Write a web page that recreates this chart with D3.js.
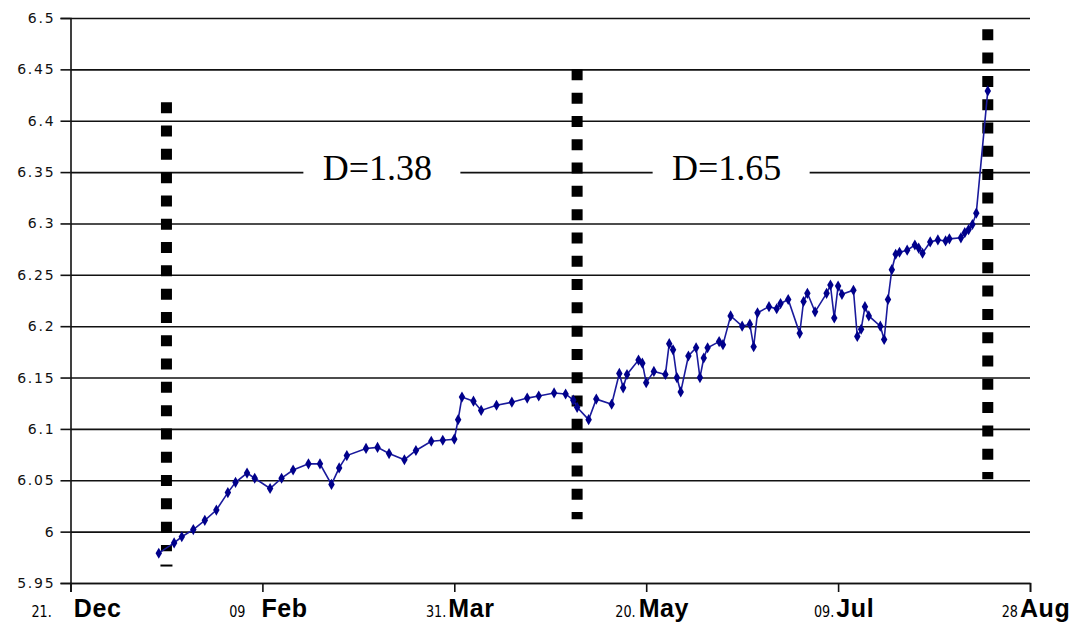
<!DOCTYPE html>
<html>
<head>
<meta charset="utf-8">
<script src="https://cdn.jsdelivr.net/npm/d3@7"></script>
<style>
  html, body { margin: 0; padding: 0; background: #fff; }
  svg { display: block; }
</style>
</head>
<body>
<svg id="chart" width="1075" height="624"></svg>
<script>
// Axis extent and tick labels
const domainStart = "2002-12-21";
const domainEnd = "2003-08-28";
const tickDates = ["2002-12-21", "2003-02-09", "2003-03-31", "2003-05-20", "2003-07-09", "2003-08-28"];
const tickDays = ["21.", "09", "31.", "20.", "09.", "28"];
const tickMonths = ["Dec", "Feb", "Mar", "May", "Jul", "Aug"];
const yTicks = [5.95, 6, 6.05, 6.1, 6.15, 6.2, 6.25, 6.3, 6.35, 6.4, 6.45, 6.5];
const yTickLabels = ["5.95", "6", "6.05", "6.1", "6.15", "6.2", "6.25", "6.3", "6.35", "6.4", "6.45", "6.5"];

// Daily series
const dates = [
  "2003-01-13", "2003-01-17", "2003-01-19", "2003-01-22", "2003-01-25", "2003-01-28", "2003-01-31",
  "2003-02-02", "2003-02-05", "2003-02-07", "2003-02-11", "2003-02-14", "2003-02-17", "2003-02-21",
  "2003-02-24", "2003-02-27", "2003-03-01", "2003-03-03", "2003-03-08", "2003-03-11", "2003-03-14",
  "2003-03-18", "2003-03-21", "2003-03-25", "2003-03-28", "2003-03-31", "2003-04-01", "2003-04-02",
  "2003-04-05", "2003-04-07", "2003-04-11", "2003-04-15", "2003-04-19", "2003-04-22", "2003-04-26",
  "2003-04-29", "2003-05-01", "2003-05-02", "2003-05-05", "2003-05-07", "2003-05-11", "2003-05-13",
  "2003-05-14", "2003-05-15", "2003-05-18", "2003-05-19", "2003-05-20", "2003-05-22", "2003-05-25",
  "2003-05-26", "2003-05-27", "2003-05-28", "2003-05-29", "2003-05-31", "2003-06-02", "2003-06-03",
  "2003-06-04", "2003-06-05", "2003-06-08", "2003-06-09", "2003-06-11", "2003-06-14", "2003-06-16",
  "2003-06-17", "2003-06-18", "2003-06-21", "2003-06-23", "2003-06-24", "2003-06-26", "2003-06-29",
  "2003-06-30", "2003-07-01", "2003-07-03", "2003-07-06", "2003-07-07", "2003-07-08", "2003-07-09",
  "2003-07-10", "2003-07-13", "2003-07-14", "2003-07-15", "2003-07-16", "2003-07-17", "2003-07-20",
  "2003-07-21", "2003-07-22", "2003-07-23", "2003-07-24", "2003-07-25", "2003-07-27", "2003-07-29",
  "2003-07-30", "2003-07-31", "2003-08-02", "2003-08-04", "2003-08-06", "2003-08-07", "2003-08-10",
  "2003-08-11", "2003-08-12", "2003-08-13", "2003-08-14", "2003-08-17"
];
const values = [
  5.979, 5.989, 5.995, 6.002, 6.011, 6.021, 6.038,
  6.048, 6.057, 6.052, 6.042, 6.052, 6.060, 6.066,
  6.066, 6.046, 6.062, 6.074, 6.081, 6.082, 6.076,
  6.070, 6.079, 6.088, 6.089, 6.090, 6.109, 6.131,
  6.127, 6.118, 6.123, 6.126, 6.130, 6.132, 6.135,
  6.134, 6.128, 6.121, 6.109, 6.129, 6.124, 6.154,
  6.140, 6.153, 6.167, 6.164, 6.145, 6.156, 6.153,
  6.183, 6.177, 6.150, 6.136, 6.171, 6.179, 6.150,
  6.169, 6.179, 6.185, 6.182, 6.210, 6.200, 6.202,
  6.180, 6.213, 6.219, 6.217, 6.222, 6.226, 6.193,
  6.224, 6.232, 6.214, 6.232, 6.240, 6.208, 6.239,
  6.231, 6.235, 6.190, 6.197, 6.219, 6.210, 6.200,
  6.187, 6.226, 6.255, 6.270, 6.272, 6.274, 6.279,
  6.276, 6.271, 6.282, 6.284, 6.283, 6.285, 6.286,
  6.291, 6.294, 6.299, 6.310, 6.429
];

// Period dividers (dashed verticals)
const dividerDates = ["2003-01-15", "2003-05-02", "2003-08-17"];
const dividerLow = [5.981, 6.012, 6.051];
const dividerHigh = [6.418, 6.450, 6.489];
const dividerCap = [5.967, null, null];

// Period annotations sitting on the 6.35 gridline
const spanLabels = ["D=1.38", "D=1.65"];
const spanLabelDates = ["2003-03-12", "2003-06-11"];
const spanLabelValue = 6.35;

const parse = d3.utcParse("%Y-%m-%d");
const margin = { left: 70.5, right: 45, top: 18, bottom: 41 };
const W = 1075, H = 624;

const x = d3.scaleUtc()
  .domain([parse(domainStart), parse(domainEnd)])
  .range([margin.left, W - margin.right]);
const y = d3.scaleLinear()
  .domain([5.95, 6.5])
  .range([H - margin.bottom, margin.top]);

const svg = d3.select("#chart");

// Horizontal gridlines
const grid = svg.append("g")
  .attr("transform", `translate(${margin.left},0)`)
  .call(d3.axisLeft(y).tickValues(yTicks).tickSize(-(x.range()[1] - margin.left)).tickFormat(""));
grid.select(".domain").remove();
grid.selectAll(".tick line").attr("stroke", "#111").attr("stroke-width", 1.6);

// Y axis
const yAxis = svg.append("g")
  .attr("transform", `translate(${margin.left},0)`)
  .call(d3.axisLeft(y).tickValues(yTicks).tickSize(10).tickPadding(5)
    .tickFormat((d, i) => yTickLabels[i]));
yAxis.select(".domain").attr("stroke", "#111").attr("stroke-width", 1.6);
yAxis.selectAll(".tick line").attr("stroke", "#111").attr("stroke-width", 1.6);
yAxis.selectAll(".tick text")
  .attr("font-family", "'DejaVu Sans', Verdana, sans-serif")
  .attr("font-size", 14)
  .attr("letter-spacing", "1.8px")
  .attr("fill", "#111");

// X axis
const xAxis = svg.append("g")
  .attr("transform", `translate(0,${y(5.95)})`)
  .call(d3.axisBottom(x).tickValues(tickDates.map(parse)).tickSize(9).tickFormat(""));
xAxis.select(".domain").attr("stroke", "#111").attr("stroke-width", 1.6);
xAxis.selectAll(".tick line").attr("stroke", "#111").attr("stroke-width", 1.6);

// Two-part date labels: small narrow day number, large bold month
const dayGap = [22, 16, 2, 3, 2, 2];
const dayScale = 0.8;
const xLabels = svg.append("g");
tickDates.forEach((d, i) => {
  const tx = x(parse(d));
  const g = xLabels.append("g").attr("transform", `translate(${tx + 6},617)`);
  const dayT = g.append("text")
    .attr("font-family", "'DejaVu Sans', Verdana, sans-serif")
    .attr("font-size", 16)
    .attr("fill", "#000")
    .text(tickDays[i]);
  const monT = g.append("text")
    .attr("font-family", "'Liberation Sans', Arial, sans-serif")
    .attr("font-weight", "bold")
    .attr("font-size", 25)
    .attr("letter-spacing", "0.6px")
    .attr("fill", "#000")
    .text(tickMonths[i]);
  const dayW = dayT.node().getComputedTextLength() * dayScale;
  const monW = monT.node().getComputedTextLength();
  const left = -(dayW + dayGap[i] + monW) / 2;
  dayT.attr("transform", `translate(${left},0) scale(${dayScale},1)`);
  monT.attr("x", left + dayW + dayGap[i]);
});

// Period annotations with a white backing that interrupts the gridline
const ann = svg.append("g");
spanLabels.forEach((s, i) => {
  const cx = x(parse(spanLabelDates[i]));
  const cy = y(spanLabelValue);
  ann.append("rect")
    .attr("x", cx - 78).attr("y", cy - 22)
    .attr("width", 157).attr("height", 40)
    .attr("fill", "#fff");
  ann.append("text")
    .attr("x", cx - 4).attr("y", cy + 8)
    .attr("text-anchor", "middle")
    .attr("font-family", "'Liberation Serif', 'Times New Roman', serif")
    .attr("font-size", 36)
    .attr("fill", "#000")
    .text(s);
});

// Dashed vertical dividers
const div = svg.append("g");
dividerDates.forEach((d, i) => {
  const dx = x(parse(d));
  div.append("line")
    .attr("x1", dx).attr("x2", dx)
    .attr("y1", y(dividerHigh[i])).attr("y2", y(dividerLow[i]))
    .attr("stroke", "#000")
    .attr("stroke-width", 11)
    .attr("stroke-dasharray", "11 12.3");
  if (dividerCap[i] != null) {
    div.append("line")
      .attr("x1", dx - 6).attr("x2", dx + 6)
      .attr("y1", y(dividerCap[i])).attr("y2", y(dividerCap[i]))
      .attr("stroke", "#000").attr("stroke-width", 2);
  }
});

// Series line and markers
const pts = dates.map((d, i) => ({ date: parse(d), value: values[i] }));
svg.append("path")
  .datum(pts)
  .attr("fill", "none")
  .attr("stroke", "#1a1a9c")
  .attr("stroke-width", 1.6)
  .attr("d", d3.line().x(p => x(p.date)).y(p => y(p.value)));

const sym = d3.symbol().type(d3.symbolDiamond).size(36);
svg.append("g")
  .selectAll("path")
  .data(pts)
  .join("path")
  .attr("transform", p => `translate(${x(p.date)},${y(p.value)})`)
  .attr("d", sym)
  .attr("fill", "#00008b");
</script>
</body>
</html>
